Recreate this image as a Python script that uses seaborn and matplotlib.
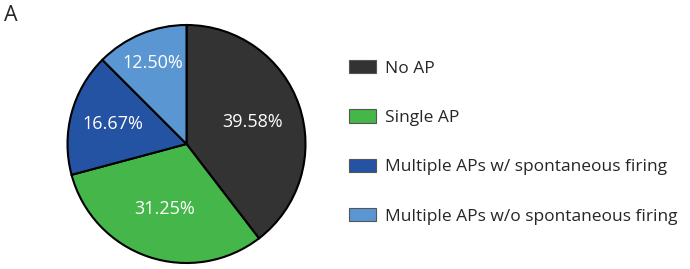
import matplotlib
matplotlib.use("Agg")
import matplotlib.pyplot as plt
import seaborn as sns

categories = ["No AP", "Single AP", "Multiple APs w/ spontaneous firing",
              "Multiple APs w/o spontaneous firing"]
percent = [39.58, 31.25, 16.67, 12.50]
slice_colors = ["#333333", "#45b649", "#2553a4", "#5a97d2"]

sns.set_theme(style="white")
plt.rcParams["font.family"] = ["Open Sans", "DejaVu Sans"]

fig = plt.figure(figsize=(6.9, 2.69), dpi=100)
# pie sits in a square box on the left
ax = fig.add_axes([67.5 / 690, 6 / 269, 238 / 690, 238 / 269])

wedges, texts, autotexts = ax.pie(
    percent, colors=slice_colors, startangle=90, counterclock=False,
    autopct="%.2f%%", pctdistance=0.6, radius=1,
    wedgeprops=dict(edgecolor="black", linewidth=1.5),
    textprops=dict(color="white", fontsize=13),
)
# labels in the original are nudged by hand
label_dist = [0.585, 0.575, 0.64, 0.74]
for t, d in zip(autotexts, label_dist):
    x, y = t.get_position()
    t.set_position((x / 0.6 * d, y / 0.6 * d))
for w in wedges:
    w.set_clip_on(False)
ax.set_xlim(-1, 1)
ax.set_ylim(-1, 1)
ax.set_aspect("equal")
ax.axis("off")

handles = [plt.Rectangle((0, 0), 1, 1, facecolor=c, edgecolor="#555555", linewidth=0.8)
           for c in slice_colors]
fig.legend(handles, categories, loc="upper left", bbox_to_anchor=(349 / 690, 1 - 60 / 269),
           frameon=False, fontsize=12.5, handlelength=1.55, handleheight=0.8,
           handletextpad=0.55, labelspacing=1.88, borderaxespad=0, borderpad=0)

fig.text(4 / 690, 1 - 5 / 269, "A", fontsize=15.5, va="top", ha="left")

fig.savefig("out.png", dpi=100)
